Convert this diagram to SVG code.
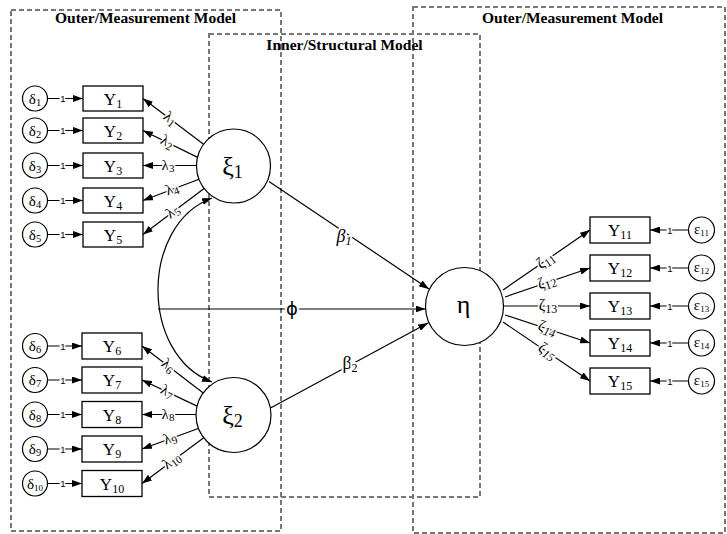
<svg xmlns="http://www.w3.org/2000/svg" width="727" height="534" viewBox="0 0 727 534">
<style>
  .bg{fill:#fff}
  .dash{fill:none;stroke:#777;stroke-width:2;stroke-dasharray:5 3}
  .title{font-family:"Liberation Serif","Times New Roman",serif;font-weight:bold;font-size:15.5px;fill:#000;text-anchor:middle}
  .box{fill:#fff;stroke:#000;stroke-width:1.3}
  .circ{fill:#fff;stroke:#000;stroke-width:1.2}
  .ln{fill:none;stroke:#000;stroke-width:1.2}
  .arr{marker-end:url(#ah)}
  .ylab{font-family:"Liberation Serif","Times New Roman",serif;font-size:17px;fill:#000;text-anchor:middle}
  .ylab tspan{font-size:12px}
  .err{font-family:"Liberation Serif","Times New Roman",serif;font-size:15px;fill:#000;text-anchor:middle}
  .err tspan{font-size:10.5px}
  .err tspan.s2{font-size:9px}
  .lat{font-family:"Liberation Serif","Times New Roman",serif;font-size:26px;fill:#000;text-anchor:middle}
  .lat tspan{font-size:18px}
  .one{font-family:"Liberation Sans",Arial,sans-serif;font-size:9.5px;fill:#000;text-anchor:middle;stroke:#fff;stroke-width:3;paint-order:stroke}
  .lbl{font-family:"Liberation Serif","Times New Roman",serif;font-size:15px;fill:#000;text-anchor:middle;stroke:#fff;stroke-width:3;paint-order:stroke}
  .lbl tspan{font-size:11px}
  .zl{font-family:"Liberation Serif","Times New Roman",serif;font-size:16px;fill:#000;text-anchor:middle;stroke:#fff;stroke-width:3;paint-order:stroke}
  .zl tspan{font-size:12px}
  .beta{font-family:"Liberation Serif","Times New Roman",serif;font-size:18px;fill:#000;text-anchor:middle;stroke:#fff;stroke-width:4;paint-order:stroke}
  .beta tspan{font-size:12px}
  .phi{font-family:"DejaVu Sans","Liberation Sans",sans-serif;font-size:18px;fill:#000;text-anchor:middle;stroke:#fff;stroke-width:4;paint-order:stroke}
</style>
<defs>
  <marker id="ah" markerUnits="userSpaceOnUse" markerWidth="10" markerHeight="7" refX="10" refY="3.5" orient="auto-start-reverse">
    <path d="M0,0 L10,3.5 L0,7 z" fill="#000"/>
  </marker>
</defs>
<rect class="bg" x="0" y="0" width="727" height="534"/>

<g id="regions">
  <rect class="dash" x="11" y="10" width="270" height="521"/>
  <rect class="dash" x="209" y="34" width="271" height="463"/>
  <rect class="dash" x="413" y="7" width="312" height="526"/>
  <text class="title" x="145.5" y="23">Outer/Measurement Model</text>
  <text class="title" x="572.5" y="23">Outer/Measurement Model</text>
  <text class="title" x="344.5" y="50">Inner/Structural Model</text>
</g>

<g id="connectors">
  <line class="ln arr" x1="48" y1="98.5" x2="83" y2="98.5"/>
  <line class="ln arr" x1="48" y1="130.5" x2="83" y2="130.5"/>
  <line class="ln arr" x1="48" y1="165.5" x2="83" y2="165.5"/>
  <line class="ln arr" x1="48" y1="200.5" x2="83" y2="200.5"/>
  <line class="ln arr" x1="48" y1="234.5" x2="83" y2="234.5"/>
  <line class="ln arr" x1="48" y1="346" x2="82" y2="346"/>
  <line class="ln arr" x1="48" y1="380" x2="82" y2="380"/>
  <line class="ln arr" x1="48" y1="414.5" x2="82" y2="414.5"/>
  <line class="ln arr" x1="48" y1="449" x2="82" y2="449"/>
  <line class="ln arr" x1="48" y1="483.5" x2="82" y2="483.5"/>
  <text class="one" x="63" y="102">1</text>
  <text class="one" x="63" y="134">1</text>
  <text class="one" x="63" y="169">1</text>
  <text class="one" x="63" y="204">1</text>
  <text class="one" x="63" y="238">1</text>
  <text class="one" x="63" y="349.5">1</text>
  <text class="one" x="63" y="383.5">1</text>
  <text class="one" x="63" y="418">1</text>
  <text class="one" x="63" y="452.5">1</text>
  <text class="one" x="63" y="487">1</text>

  <line class="ln arr" x1="203.6" y1="144.2" x2="143" y2="98.5"/>
  <line class="ln arr" x1="197.6" y1="157.4" x2="143" y2="130.5"/>
  <line class="ln arr" x1="196.5" y1="165.5" x2="143" y2="165.5"/>
  <line class="ln arr" x1="199" y1="179.2" x2="143" y2="200.5"/>
  <line class="ln arr" x1="204.1" y1="188.4" x2="143" y2="234.5"/>
  <line class="ln arr" x1="203.6" y1="393.2" x2="142" y2="346"/>
  <line class="ln arr" x1="197.6" y1="406.4" x2="142" y2="380"/>
  <line class="ln arr" x1="196" y1="414.5" x2="142" y2="414.5"/>
  <line class="ln arr" x1="199" y1="428.2" x2="142" y2="449"/>
  <line class="ln arr" x1="204.1" y1="437.4" x2="142" y2="483.5"/>

  <text class="lbl" transform="translate(170,118.9) rotate(37)" y="4">λ<tspan dy="2.5">1</tspan></text>
  <text class="lbl" transform="translate(167,142.3) rotate(26)" y="4">λ<tspan dy="2.5">2</tspan></text>
  <text class="lbl" transform="translate(168,165.5)" y="4">λ<tspan dy="2.5">3</tspan></text>
  <text class="lbl" transform="translate(172,189.5) rotate(-21)" y="4">λ<tspan dy="2.5">4</tspan></text>
  <text class="lbl" transform="translate(173,211.9) rotate(-37)" y="4">λ<tspan dy="2.5">5</tspan></text>
  <text class="lbl" transform="translate(168,365.9) rotate(37)" y="4">λ<tspan dy="2.5">6</tspan></text>
  <text class="lbl" transform="translate(167,391.9) rotate(26)" y="4">λ<tspan dy="2.5">7</tspan></text>
  <text class="lbl" transform="translate(168,414.5)" y="4">λ<tspan dy="2.5">8</tspan></text>
  <text class="lbl" transform="translate(170,438.8) rotate(-21)" y="4">λ<tspan dy="2.5">9</tspan></text>
  <text class="lbl" transform="translate(172,461.2) rotate(-37)" y="4">λ<tspan dy="2.5">10</tspan></text>

  <path class="ln" d="M212,198 C140,225 140,355 212,382" marker-start="url(#ah)" marker-end="url(#ah)"/>
  <line class="ln arr" x1="158" y1="309" x2="425.6" y2="309"/>
  <text class="phi" x="292" y="315">ϕ</text>
  <line class="ln arr" x1="269" y1="181.5" x2="429" y2="289"/>
  <line class="ln arr" x1="270.5" y1="408" x2="428" y2="323"/>
  <text class="beta" x="344" y="242" font-style="italic">β<tspan dy="3">1</tspan></text>
  <text class="beta" x="350" y="369">β<tspan dy="3">2</tspan></text>

  <line class="ln arr" x1="503" y1="290" x2="590" y2="230"/>
  <line class="ln arr" x1="505" y1="297" x2="590" y2="268"/>
  <line class="ln arr" x1="504" y1="306" x2="590" y2="306"/>
  <line class="ln arr" x1="505" y1="315" x2="590" y2="343"/>
  <line class="ln arr" x1="503" y1="322" x2="590" y2="381"/>
  <text class="zl" transform="translate(546,261) rotate(-34.6)" y="4">ζ<tspan dy="2.5">11</tspan></text>
  <text class="zl" transform="translate(547,282.7) rotate(-18.8)" y="4">ζ<tspan dy="2.5">12</tspan></text>
  <text class="zl" transform="translate(548,306)" y="4">ζ<tspan dy="2.5">13</tspan></text>
  <text class="zl" transform="translate(547,328.8) rotate(18.2)" y="4">ζ<tspan dy="2.5" font-style="italic">14</tspan></text>
  <text class="zl" transform="translate(547,351.8) rotate(34)" y="4">ζ<tspan dy="2.5" font-style="italic">15</tspan></text>

  <line class="ln arr" x1="688.5" y1="230" x2="650" y2="230"/>
  <line class="ln arr" x1="688.5" y1="268" x2="650" y2="268"/>
  <line class="ln arr" x1="688.5" y1="306" x2="650" y2="306"/>
  <line class="ln arr" x1="688.5" y1="343" x2="650" y2="343"/>
  <line class="ln arr" x1="688.5" y1="381" x2="650" y2="381"/>
  <text class="one" x="670" y="233.5">1</text>
  <text class="one" x="670" y="271.5">1</text>
  <text class="one" x="670" y="309.5">1</text>
  <text class="one" x="670" y="346.5">1</text>
  <text class="one" x="670" y="384.5">1</text>
</g>

<g id="d1"><circle class="circ" cx="35" cy="98.5" r="12.5"/><text class="err" x="35" y="103.5">δ<tspan dy="2">1</tspan></text></g>
<g id="d2"><circle class="circ" cx="35" cy="130.5" r="12.5"/><text class="err" x="35" y="135.5">δ<tspan dy="2">2</tspan></text></g>
<g id="d3"><circle class="circ" cx="35" cy="165.5" r="12.5"/><text class="err" x="35" y="170.5">δ<tspan dy="2">3</tspan></text></g>
<g id="d4"><circle class="circ" cx="35" cy="200.5" r="12.5"/><text class="err" x="35" y="205.5">δ<tspan dy="2">4</tspan></text></g>
<g id="d5"><circle class="circ" cx="35" cy="234.5" r="12.5"/><text class="err" x="35" y="239.5">δ<tspan dy="2">5</tspan></text></g>
<g id="d6"><circle class="circ" cx="35" cy="346" r="12.5"/><text class="err" x="35" y="351">δ<tspan dy="2">6</tspan></text></g>
<g id="d7"><circle class="circ" cx="35" cy="380" r="12.5"/><text class="err" x="35" y="385">δ<tspan dy="2">7</tspan></text></g>
<g id="d8"><circle class="circ" cx="35" cy="414.5" r="12.5"/><text class="err" x="35" y="419.5">δ<tspan dy="2">8</tspan></text></g>
<g id="d9"><circle class="circ" cx="35" cy="449" r="12.5"/><text class="err" x="35" y="454">δ<tspan dy="2">9</tspan></text></g>
<g id="d10"><circle class="circ" cx="35" cy="483.5" r="12.5"/><text class="err" x="35" y="488.5">δ<tspan class="s2" dy="2">10</tspan></text></g>

<g id="y1"><rect class="box" x="83" y="86" width="60" height="25"/><text class="ylab" x="113" y="104.5">Y<tspan dy="3">1</tspan></text></g>
<g id="y2"><rect class="box" x="83" y="118" width="60" height="25"/><text class="ylab" x="113" y="136.5">Y<tspan dy="3">2</tspan></text></g>
<g id="y3"><rect class="box" x="83" y="153" width="60" height="25"/><text class="ylab" x="113" y="171.5">Y<tspan dy="3">3</tspan></text></g>
<g id="y4"><rect class="box" x="83" y="188" width="60" height="25"/><text class="ylab" x="113" y="206.5">Y<tspan dy="3">4</tspan></text></g>
<g id="y5"><rect class="box" x="83" y="222" width="60" height="25"/><text class="ylab" x="113" y="240.5">Y<tspan dy="3">5</tspan></text></g>
<g id="y6"><rect class="box" x="82" y="333" width="60" height="26"/><text class="ylab" x="112" y="352">Y<tspan dy="3">6</tspan></text></g>
<g id="y7"><rect class="box" x="82" y="367" width="60" height="26"/><text class="ylab" x="112" y="386">Y<tspan dy="3">7</tspan></text></g>
<g id="y8"><rect class="box" x="82" y="401.5" width="60" height="26"/><text class="ylab" x="112" y="420.5">Y<tspan dy="3">8</tspan></text></g>
<g id="y9"><rect class="box" x="82" y="436" width="60" height="26"/><text class="ylab" x="112" y="455">Y<tspan dy="3">9</tspan></text></g>
<g id="y10"><rect class="box" x="82" y="470.5" width="60" height="26"/><text class="ylab" x="112" y="489.5">Y<tspan dy="3">10</tspan></text></g>

<g id="xi1"><circle class="circ" cx="233.5" cy="166" r="37"/><text class="lat" x="232.5" y="175">ξ<tspan dy="3">1</tspan></text></g>
<g id="xi2"><circle class="circ" cx="233.5" cy="415" r="37.5"/><text class="lat" x="232.5" y="424">ξ<tspan dy="3">2</tspan></text></g>
<g id="eta"><circle class="circ" cx="464.5" cy="306.5" r="39"/><text class="lat" x="463.5" y="313" font-size="32">η</text></g>

<g id="y11"><rect class="box" x="590" y="217" width="60" height="26"/><text class="ylab" x="620" y="236">Y<tspan dy="3">11</tspan></text></g>
<g id="y12"><rect class="box" x="590" y="255" width="60" height="26"/><text class="ylab" x="620" y="274">Y<tspan dy="3">12</tspan></text></g>
<g id="y13"><rect class="box" x="590" y="293" width="60" height="26"/><text class="ylab" x="620" y="312">Y<tspan dy="3">13</tspan></text></g>
<g id="y14"><rect class="box" x="590" y="330" width="60" height="26"/><text class="ylab" x="620" y="349">Y<tspan dy="3">14</tspan></text></g>
<g id="y15"><rect class="box" x="590" y="368" width="60" height="26"/><text class="ylab" x="620" y="387">Y<tspan dy="3">15</tspan></text></g>

<g id="e11"><circle class="circ" cx="701.5" cy="230" r="13"/><text class="err" x="701.5" y="234" font-size="14">ε<tspan class="s2" dy="2">11</tspan></text></g>
<g id="e12"><circle class="circ" cx="701.5" cy="268" r="13"/><text class="err" x="701.5" y="272" font-size="14">ε<tspan class="s2" dy="2">12</tspan></text></g>
<g id="e13"><circle class="circ" cx="701.5" cy="306" r="13"/><text class="err" x="701.5" y="310" font-size="14">ε<tspan class="s2" dy="2">13</tspan></text></g>
<g id="e14"><circle class="circ" cx="701.5" cy="343" r="13"/><text class="err" x="701.5" y="347" font-size="14">ε<tspan class="s2" dy="2">14</tspan></text></g>
<g id="e15"><circle class="circ" cx="701.5" cy="381" r="13"/><text class="err" x="701.5" y="385" font-size="14">ε<tspan class="s2" dy="2">15</tspan></text></g>
</svg>
